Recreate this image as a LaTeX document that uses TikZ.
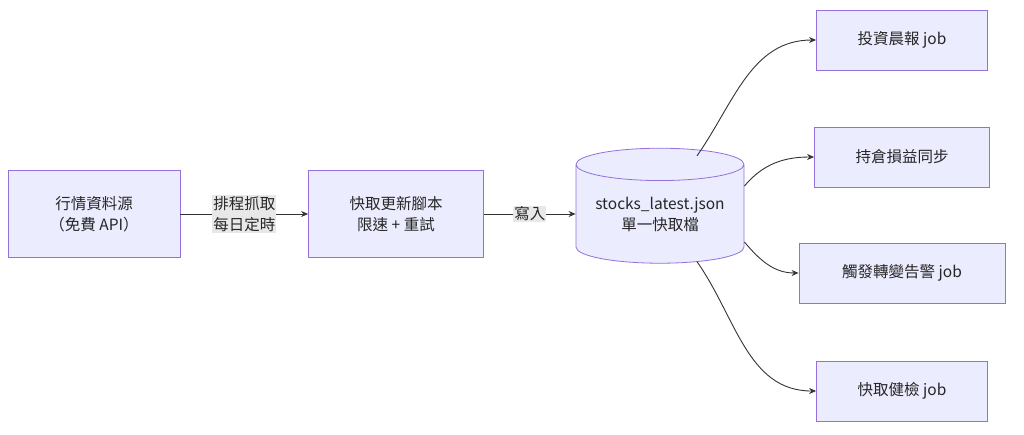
\documentclass[tikz,border=0pt]{standalone}
\usepackage{fontspec}
\setmainfont{Noto Sans CJK TC}
\usetikzlibrary{arrows.meta, positioning, shapes.geometric}
\definecolor{boxfill}{HTML}{ECECFF}
\definecolor{boxline}{HTML}{9370DB}
\definecolor{lblbg}{HTML}{E8E8E8}
\definecolor{edge}{HTML}{333333}
\begin{document}
\begin{tikzpicture}[x=1pt, y=-1pt,
    every node/.style={font=\fontsize{15.5}{21}\selectfont, text=black!85},
    box/.style={draw=boxline, fill=boxfill, line width=0.8pt, align=center, inner sep=0pt},
    db/.style={draw=boxline, fill=boxfill, line width=0.8pt, align=center, cylinder, shape border rotate=90, aspect=0.25, minimum width=168pt, minimum height=115pt, inner sep=0pt},
    lbl/.style={fill=lblbg, align=center, inner sep=1pt},
    link/.style={draw=edge, line width=0.9pt, -{Stealth[length=7pt, width=6pt]}}
]
\useasboundingbox (0,0) rectangle (1024,434);

% sources
\node[box, minimum width=172pt, minimum height=87pt] (src) at (94,214) {行情資料源\\（免費 API）};
\node[box, minimum width=175pt, minimum height=87pt] (upd) at (396,214) {快取更新腳本\\限速 + 重試};
\node[db] (cache) at (660,214) {stocks\_latest.json\\單一快取檔};

% consumers
\node[box, minimum width=171pt, minimum height=60pt] (brief) at (902,40) {投資晨報 job};
\node[box, minimum width=175pt, minimum height=60pt] (pnl) at (902,157) {持倉損益同步};
\node[box, minimum width=206pt, minimum height=60pt] (alert) at (902,273) {觸發轉變告警 job};
\node[box, minimum width=171pt, minimum height=60pt] (check) at (902,391) {快取健檢 job};

% edges
\draw[link] (src) -- node[lbl] {排程抓取\\每日定時} (upd);
\draw[link] (upd) -- node[lbl] {寫入} (cache);
\draw[link] (cache.north) ++(37,8) coordinate (c1) (c1) to[out=55, in=180] (brief.west);
\draw[link] (cache.east) ++(0,-28) coordinate (c2) (c2) to[out=50, in=180] (pnl.west);
\draw[link] (cache.east) ++(0,28) coordinate (c3) (c3) to[out=-50, in=180] (alert.west);
\draw[link] (cache.south) ++(37,-2) coordinate (c4) (c4) to[out=-55, in=180] (check.west);
\end{tikzpicture}
\end{document}
